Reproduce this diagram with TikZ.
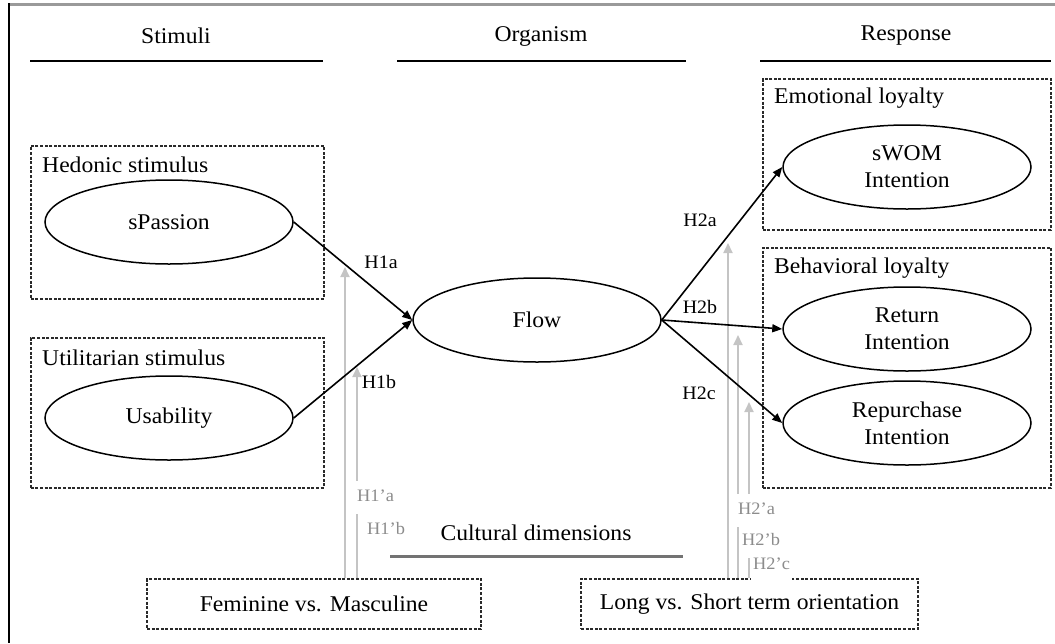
\documentclass[tikz,border=0pt]{standalone}
\usepackage{fontspec}
\setmainfont{Liberation Serif}[FakeStretch=1.05]
\usetikzlibrary{shapes.geometric,arrows.meta}
\definecolor{framegray}{HTML}{9A9A9A}
\definecolor{lightg}{HTML}{C4C4C4}
\definecolor{labgray}{HTML}{8C8C8C}
\definecolor{boxgray}{HTML}{2A2A2A}
\begin{document}
\begin{tikzpicture}[x=1pt,y=-1pt,
  txt/.style={font=\fontsize{22.5}{28}\selectfont, inner sep=0pt},
  ell/.style={ellipse, draw, line width=1.5pt, minimum width=248pt, minimum height=84pt,
              inner sep=0pt, align=center, font=\fontsize{22.5}{27}\selectfont},
  dbox/.style={draw=boxgray, line width=1.7pt, dash pattern=on 3pt off 1.6pt, inner sep=0pt},
  arr/.style={line width=1.6pt, -{Triangle[length=10pt,width=8pt]}},
  garr/.style={draw=lightg, line width=2pt, -{Triangle[length=10pt,width=9pt,fill=lightg]}},
  hlab/.style={font=\fontsize{19}{22}\selectfont, inner sep=0pt},
  glab/.style={font=\fontsize{17.5}{20}\selectfont, text=labgray, fill=white,
               inner xsep=2pt, inner ysep=9pt, text height=12pt, text depth=3pt, anchor=west},
  hline/.style={line width=2pt}
]
\useasboundingbox (0,0) rectangle (1055,643);

% frame
\draw[framegray, line width=3pt] (9,4) -- (1055,4);
\draw[black, line width=2pt] (9,3) -- (9,643);

% headers
\node[txt] (stim) at (176,36) {Stimuli};
\node[txt] (org) at (541,36) {Organism};
\node[txt] (resp) at (906,36) {Response};
\draw[hline] (30,61) -- (323,61);
\draw[hline] (397,61) -- (686,61);
\draw[hline] (760,61) -- (1051,61);

% group boxes
\node[dbox, anchor=north west, minimum width=293pt, minimum height=153pt] (hed) at (30,145) {};
\node[dbox, anchor=north west, minimum width=293pt, minimum height=150pt] (uti) at (30,337) {};
\node[dbox, anchor=north west, minimum width=288pt, minimum height=151pt] (emo) at (762,78) {};
\node[dbox, anchor=north west, minimum width=288pt, minimum height=240pt] (beh) at (762,247) {};
\node[txt, anchor=west] (hedt) at (42,165) {Hedonic stimulus};
\node[txt, anchor=west] (utit) at (42,358) {Utilitarian stimulus};
\node[txt, anchor=west] (emot) at (774,98) {Emotional loyalty};
\node[txt, anchor=west] (beht) at (774,268) {Behavioral loyalty};

% ellipses
\node[ell] (pas) at (169,222) {sPassion};
\node[ell] (usa) at (169,418) {Usability};
\node[ell] (flow) at (537,320) {Flow};
\node[ell] (swom) at (907,167) {sWOM\\Intention};
\node[ell] (ret) at (907,329) {Return\\Intention};
\node[ell] (rep) at (907,423) {Repurchase\\Intention};

% cultural dimensions
\node[txt] (cult) at (536,533) {Cultural dimensions};
\draw[black!55, line width=3pt] (390,556) -- (683,556);
\node[dbox, minimum width=334pt, minimum height=50pt, font=\fontsize{22.5}{27}\selectfont] (fem) at (314,604) {Feminine vs. Masculine};
\node[dbox, minimum width=337pt, minimum height=50pt, font=\fontsize{22.5}{27}\selectfont] (lng) at (749.5,604) {Long vs. Short term orientation};

% gray moderation arrows
\coordinate (g1) at (345,267);
\coordinate (g2) at (357,367);
\coordinate (g3) at (728,243);
\coordinate (g4) at (738,335);
\coordinate (g5) at (749,402);
\draw[garr] (fem.north -| g1) -- (g1);
\draw[garr] (fem.north -| g2) -- (g2);
\draw[garr] (lng.north -| g3) -- (g3);
\draw[garr] (lng.north -| g4) -- (g4);
\draw[garr] (lng.north -| g5) -- (g5);
\node[glab] (l1a) at (355,497) {H1'a};
\node[glab] (l1b) at (365,530) {H1'b};
\node[glab] (l2a) at (736,510) {H2'a};
\node[glab] (l2b) at (740,541) {H2'b};
\node[glab] (l2c) at (751,565) {H2'c};

% structural arrows
\draw[arr] (pas.east) -- (flow.west);
\draw[arr] (usa.east) -- (flow.west);
\draw[arr] (flow.east) -- (swom.west);
\draw[arr] (flow.east) -- (ret.west);
\draw[arr] (flow.east) -- (rep.west);
\node[hlab] (h1a) at (381,262) {H1a};
\node[hlab] (h1b) at (379,382) {H1b};
\node[hlab] (h2a) at (700,220) {H2a};
\node[hlab] (h2b) at (700,307) {H2b};
\node[hlab] (h2c) at (699,393) {H2c};
\end{tikzpicture}
\end{document}
